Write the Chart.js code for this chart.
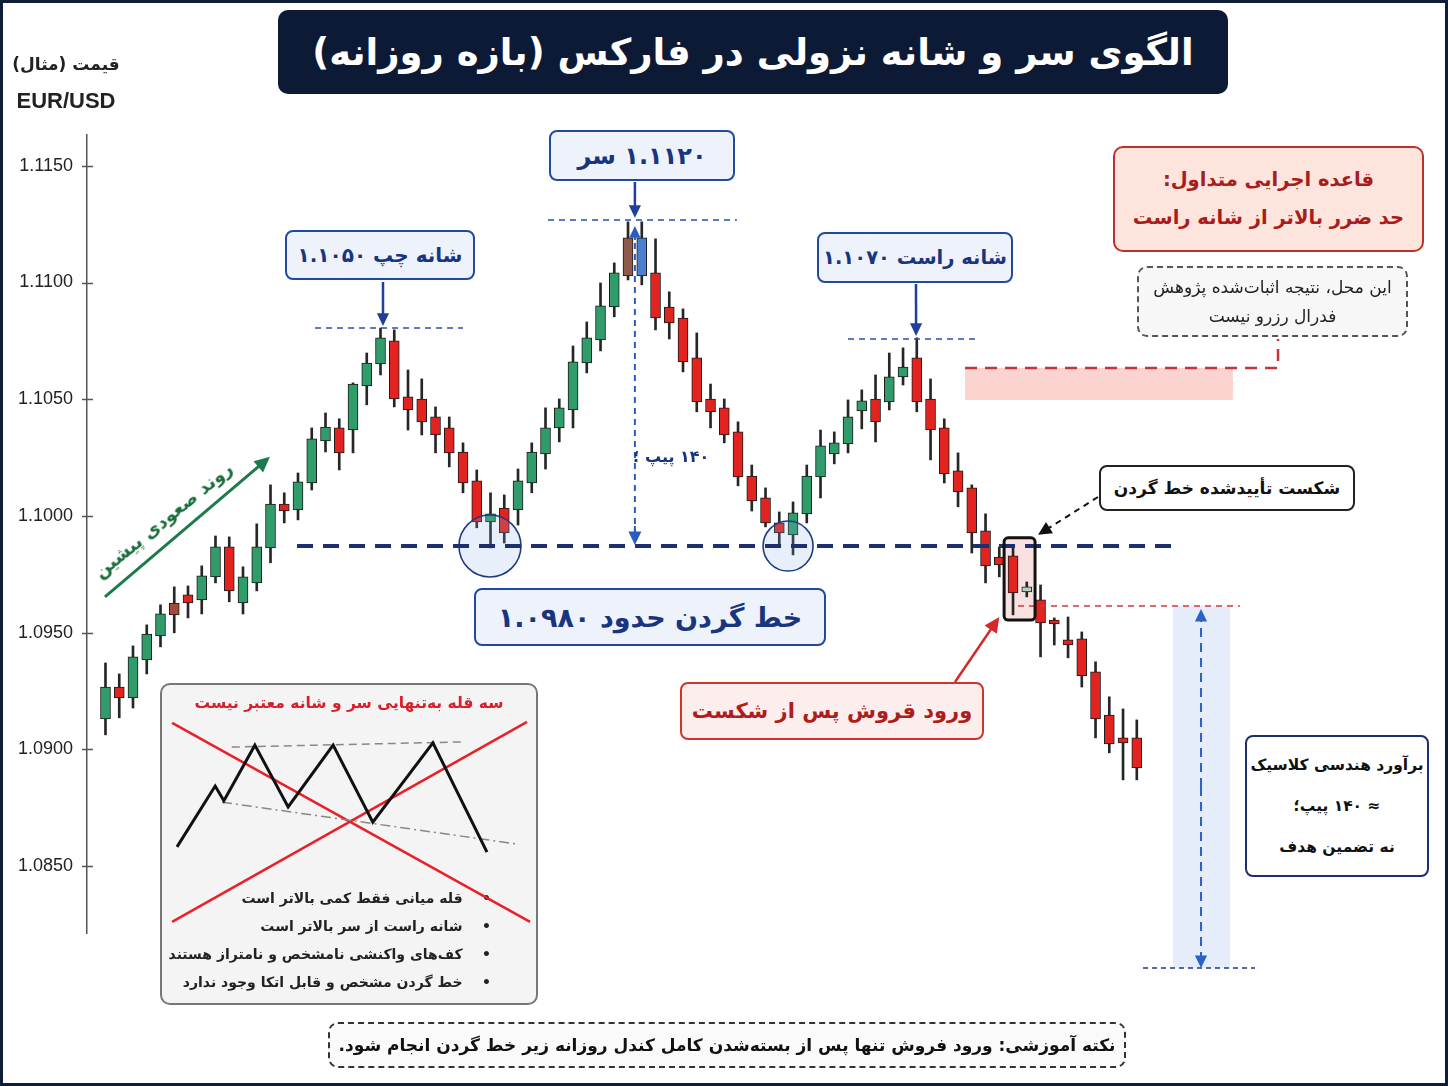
<!DOCTYPE html>
<html lang="fa">
<head>
<meta charset="utf-8">
<script src="https://cdn.jsdelivr.net/npm/chart.js@4.4.1/dist/chart.umd.min.js"></script>
<style>
  body { margin: 0; background: #fff; }
  #page { position: relative; width: 1448px; height: 1086px; overflow: hidden; background: #fff; }
  canvas { position: absolute; left: 0; top: 0; }
  .box { position: absolute; box-sizing: border-box; display: flex; flex-direction: column;
         align-items: center; justify-content: center; direction: rtl; text-align: center; white-space: nowrap;
         font-family: "DejaVu Sans", "Noto Sans", sans-serif; font-weight: bold; }
  .blue { background: #eef3fb; border: 2px solid #1f4aa0; border-radius: 8px; color: #1a3580; font-size: 20px; }
  .txt { position: absolute; font-family: "DejaVu Sans", "Noto Sans", sans-serif; font-weight: bold; direction: rtl; white-space: nowrap; }
  #frame { position: absolute; left: 0; top: 0; width: 1448px; height: 1086px; box-sizing: border-box;
           border: 3px solid #0f1e38; pointer-events: none; }
</style>
</head>
<body>
<div id="page">
  <canvas id="main" width="1448" height="1086"></canvas>

  <div class="box" style="left:278px;top:10px;width:950px;height:84px;background:#0c1a36;border-radius:10px;color:#fff;font-size:37px;">الگوی سر و شانه نزولی در فارکس (بازه روزانه)</div>

  <div class="txt" style="left:12px;top:54px;width:108px;text-align:center;font-size:17px;color:#222;">قیمت (مثال)</div>
  <div class="txt" style="left:10px;top:88px;width:112px;text-align:center;font-size:22px;color:#222;direction:ltr;font-family:'Liberation Sans',Arial,sans-serif;">EUR/USD</div>

  <div class="box blue" style="left:285px;top:230px;width:190px;height:50px;">شانه چپ ۱.۱۰۵۰</div>
  <div class="box blue" style="left:549px;top:130px;width:186px;height:51px;font-size:24px;">۱.۱۱۲۰ سر</div>
  <div class="box blue" style="left:817px;top:232px;width:196px;height:51px;font-size:19.5px;">شانه راست ۱.۱۰۷۰</div>
  <div class="box blue" style="left:474px;top:588px;width:352px;height:58px;font-size:27px;">خط گردن حدود ۱.۰۹۸۰</div>

  <div class="txt" style="left:633px;top:447px;font-size:16px;color:#1a3580;">۱۴۰ پیپ ؛</div>

  <div class="box" style="left:1113px;top:146px;width:311px;height:106px;background:#fde4dd;border:2.5px solid #c0302a;border-radius:10px;color:#a81c1c;font-size:19.5px;line-height:1.95;">
    <div>قاعده اجرایی متداول:</div><div>حد ضرر بالاتر از شانه راست</div></div>
  <div class="box" style="left:1137px;top:266px;width:271px;height:71px;background:#f7f7f7;border:2px dashed #555;border-radius:10px;color:#222;font-size:17px;font-weight:normal;line-height:1.65;">
    <div>این محل، نتیجه اثبات‌شده پژوهش</div><div>فدرال رزرو نیست</div></div>

  <div class="box" style="left:1099px;top:465px;width:256px;height:46px;background:#fff;border:2px solid #222;border-radius:8px;color:#111;font-size:17px;">شکست تأییدشده خط گردن</div>
  <div class="box" style="left:680px;top:682px;width:304px;height:58px;background:#fdeeee;border:2px solid #d0342c;border-radius:8px;color:#b01c1c;font-size:21px;">ورود قروش پس از شکست</div>

  <div class="box" style="left:1245px;top:735px;width:184px;height:142px;background:#fff;border:2px solid #1c2f6e;border-radius:8px;color:#111;font-size:15.5px;line-height:41px;">
    <div>برآورد هندسی کلاسیک</div><div>≈ ۱۴۰ پیپ؛</div><div>نه تضمین هدف</div></div>

  <div class="txt" style="left:163px;top:520px;font-size:18px;color:#1a6e3c;transform:translate(-50%,-50%) rotate(-39deg);">روند صعودی پیشین</div>

  <div class="box" style="left:160px;top:683px;width:378px;height:322px;background:#f4f4f4;border:2px solid #777;border-radius:10px;"></div>
  <div class="txt" style="left:160px;top:694px;width:378px;text-align:center;font-size:15.5px;color:#d8202a;">سه قله به‌تنهایی سر و شانه معتبر نیست</div>
  <div class="txt" style="left:160px;top:884px;width:331px;text-align:right;font-size:14px;color:#222;line-height:28px;">
    <div>•&nbsp;&nbsp;&nbsp; قله میانی فقط کمی بالاتر است</div>
    <div>•&nbsp;&nbsp;&nbsp; شانه راست از سر بالاتر است</div>
    <div>•&nbsp;&nbsp;&nbsp; کف‌های واکنشی نامشخص و نامتراز هستند</div>
    <div>•&nbsp;&nbsp;&nbsp; خط گردن مشخص و قابل اتکا وجود ندارد</div>
  </div>
  <canvas id="inset" width="378" height="322" style="left:160px;top:683px;"></canvas>

  <div class="box" style="left:328px;top:1022px;width:798px;height:46px;background:#fafafa;border:2px dashed #333;border-radius:10px;color:#111;font-size:17px;">نکته آموزشی: ورود فروش تنها پس از بسته‌شدن کامل کندل روزانه زیر خط گردن انجام شود.</div>

  <div id="frame"></div>
</div>

<script>
// daily EUR/USD candles (example data)
const open = [
  1.09130, 1.09267, 1.09220, 1.09383, 1.09486, 1.09627, 1.09662, 1.09640, 1.09739, 1.09867,
  1.09627, 1.09713, 1.09863, 1.10051, 1.10026, 1.10141, 1.10321, 1.10377, 1.10368, 1.10557,
  1.10651, 1.10750, 1.10510, 1.10501, 1.10424, 1.10377, 1.10274, 1.10150, 1.09974, 1.10034,
  1.10026, 1.10141, 1.10266, 1.10377, 1.10454, 1.10655, 1.10754, 1.10895, 1.11028, 1.11191,
  1.11041, 1.10895, 1.10848, 1.10677, 1.10501, 1.10463, 1.10360, 1.10171, 1.10077, 1.09970,
  1.09919, 1.10009, 1.10167, 1.10266, 1.10308, 1.10450, 1.10501, 1.10488, 1.10596, 1.10677,
  1.10501, 1.10377, 1.10193, 1.10120, 1.09936, 1.09824, 1.09829, 1.09674, 1.09640, 1.09554,
  1.09469, 1.09473, 1.09332, 1.09147, 1.09049, 1.09049
];
const high = [
  1.09370, 1.09323, 1.09443, 1.09533, 1.09619, 1.09696, 1.09700, 1.09786, 1.09914, 1.09910,
  1.09782, 1.09966, 1.10133, 1.10099, 1.10184, 1.10377, 1.10441, 1.10416, 1.10570, 1.10698,
  1.10805, 1.10797, 1.10625, 1.10587, 1.10467, 1.10424, 1.10313, 1.10197, 1.10099, 1.10090,
  1.10201, 1.10313, 1.10463, 1.10501, 1.10728, 1.10831, 1.10998, 1.11084, 1.11260, 1.11260,
  1.11187, 1.10960, 1.10887, 1.10784, 1.10565, 1.10501, 1.10403, 1.10218, 1.10120, 1.10017,
  1.10060, 1.10218, 1.10368, 1.10360, 1.10497, 1.10540, 1.10604, 1.10698, 1.10720, 1.10763,
  1.10587, 1.10416, 1.10270, 1.10133, 1.10009, 1.09867, 1.09867, 1.09717, 1.09704, 1.09563,
  1.09567, 1.09503, 1.09375, 1.09225, 1.09173, 1.09126
];
const low = [
  1.09062, 1.09135, 1.09177, 1.09323, 1.09439, 1.09499, 1.09563, 1.09580, 1.09713, 1.09632,
  1.09580, 1.09679, 1.09799, 1.09970, 1.09983, 1.10111, 1.10274, 1.10197, 1.10270, 1.10476,
  1.10604, 1.10467, 1.10368, 1.10347, 1.10270, 1.10210, 1.10099, 1.09949, 1.09863, 1.09884,
  1.09961, 1.10099, 1.10201, 1.10317, 1.10377, 1.10613, 1.10707, 1.10853, 1.11011, 1.10990,
  1.10797, 1.10758, 1.10617, 1.10446, 1.10377, 1.10313, 1.10129, 1.10021, 1.09953, 1.09867,
  1.09833, 1.09970, 1.10077, 1.10223, 1.10270, 1.10373, 1.10317, 1.10454, 1.10561, 1.10446,
  1.10240, 1.10141, 1.10039, 1.09841, 1.09713, 1.09739, 1.09576, 1.09653, 1.09396, 1.09447,
  1.09392, 1.09267, 1.09049, 1.08985, 1.08869, 1.08869
];
const close = [
  1.09267, 1.09220, 1.09396, 1.09494, 1.09580, 1.09576, 1.09627, 1.09743, 1.09867, 1.09679,
  1.09739, 1.09867, 1.10051, 1.10021, 1.10146, 1.10330, 1.10381, 1.10270, 1.10565, 1.10655,
  1.10763, 1.10501, 1.10454, 1.10403, 1.10347, 1.10270, 1.10141, 1.09974, 1.10009, 1.09927,
  1.10150, 1.10274, 1.10377, 1.10463, 1.10660, 1.10763, 1.10900, 1.11041, 1.11191, 1.11028,
  1.10848, 1.10827, 1.10660, 1.10488, 1.10446, 1.10347, 1.10167, 1.10064, 1.09970, 1.09927,
  1.10013, 1.10171, 1.10300, 1.10313, 1.10424, 1.10493, 1.10403, 1.10596, 1.10638, 1.10488,
  1.10368, 1.10180, 1.10103, 1.09927, 1.09786, 1.09790, 1.09670, 1.09696, 1.09542, 1.09537,
  1.09447, 1.09315, 1.09130, 1.09023, 1.09027, 1.08920
];
const yTicks = [1.085, 1.090, 1.095, 1.100, 1.105, 1.110, 1.115];

// pattern levels
const neckline = 1.09871;
const headLevel = 1.11268;
const leftShoulderLevel = 1.10805;
const rightShoulderLevel = 1.10758;
const entryLevel = 1.09614;
const targetLevel = 1.08063;
const stopZone = [1.10497, 1.10634];
const bottoms = [28.96, 50.64];

// inset sketch (no scale, 0..100 units)
const sketchX = [4.5, 14.6, 16.9, 25.1, 33.9, 45.8, 56.3, 72.2, 86.5];
const sketchY = [49.1, 68.0, 63.4, 80.7, 61.5, 80.7, 56.8, 81.4, 47.5];

const GREEN = '#2f9c6a', RED = '#e3231f';
const specialColors = { 6: '#a24a3c', 39: '#8d5a4b', 40: '#4d7fcf', 68: '#b7cdbf' };

const idx = open.map((_, i) => i + 1);
const bodyColors = idx.map((n, i) => specialColors[n] || (close[i] >= open[i] ? GREEN : RED));

function arrow(ctx, x1, y1, x2, y2, color, width, dash, head) {
    ctx.save();
    ctx.strokeStyle = color;
    ctx.fillStyle = color;
    ctx.lineWidth = width;
    ctx.setLineDash(dash || []);
    const a = Math.atan2(y2 - y1, x2 - x1);
    ctx.beginPath();
    ctx.moveTo(x1, y1);
    ctx.lineTo(x2 - Math.cos(a) * head * 0.8, y2 - Math.sin(a) * head * 0.8);
    ctx.stroke();
    ctx.setLineDash([]);
    ctx.beginPath();
    ctx.moveTo(x2, y2);
    ctx.lineTo(x2 - head * Math.cos(a - 0.45), y2 - head * Math.sin(a - 0.45));
    ctx.lineTo(x2 - head * Math.cos(a + 0.45), y2 - head * Math.sin(a + 0.45));
    ctx.closePath();
    ctx.fill();
    ctx.restore();
}

function hline(ctx, x, y, from, to, level, color, width, dash) {
    ctx.save();
    ctx.strokeStyle = color;
    ctx.lineWidth = width;
    ctx.setLineDash(dash);
    ctx.beginPath();
    ctx.moveTo(x.getPixelForValue(from), y.getPixelForValue(level));
    ctx.lineTo(x.getPixelForValue(to), y.getPixelForValue(level));
    ctx.stroke();
    ctx.restore();
}

function spanRect(x, y, x0, x1, v0, v1) {
    const l = x.getPixelForValue(x0), t = y.getPixelForValue(v1);
    return [l, t, x.getPixelForValue(x1) - l, y.getPixelForValue(v0) - t];
}

const overlay = {
    id: 'overlay',
    beforeDatasetsDraw(chart) {
        const { ctx, scales: { x, y } } = chart;
        ctx.save();
        // stop zone
        ctx.fillStyle = '#fbd3cf';
        ctx.fillRect(...spanRect(x, y, 63.51, 82.99, stopZone[0], stopZone[1]));
        // measured move band
        ctx.fillStyle = '#e4edf9';
        ctx.fillRect(...spanRect(x, y, 78.64, 82.78, targetLevel, entryLevel));
        // breakout candle box fill
        ctx.fillStyle = 'rgba(245,205,205,0.6)';
        ctx.beginPath();
        ctx.roundRect(...spanRect(x, y, 66.35, 68.6, 1.09554, 1.09906), 4);
        ctx.fill();
        ctx.restore();
    },
    afterDatasetsDraw(chart) {
        const { ctx, scales: { x, y } } = chart;
        // y axis ticks crossing the axis
        ctx.save();
        ctx.strokeStyle = '#555';
        ctx.lineWidth = 1.5;
        yTicks.forEach(v => {
            const py = Math.round(y.getPixelForValue(v)) + 0.5;
            ctx.beginPath();
            ctx.moveTo(x.left - 5, py);
            ctx.lineTo(x.left + 6, py);
            ctx.stroke();
        });
        ctx.restore();

        // stop zone dashed edge + connector to note box
        ctx.save();
        ctx.strokeStyle = '#c8333a';
        ctx.lineWidth = 2.5;
        ctx.setLineDash([12, 8]);
        ctx.beginPath();
        ctx.moveTo(x.getPixelForValue(63.51), y.getPixelForValue(stopZone[1]));
        ctx.lineTo(x.getPixelForValue(86.27), y.getPixelForValue(stopZone[1]));
        ctx.lineTo(x.getPixelForValue(86.27), 339);
        ctx.stroke();
        ctx.restore();

        // shoulder / head reference lines
        hline(ctx, x, y, 16.24, 27.0, leftShoulderLevel, '#2a4fa8', 1.5, [6, 5]);
        hline(ctx, x, y, 33.18, 46.92, headLevel, '#2a4fa8', 1.5, [6, 5]);
        hline(ctx, x, y, 55.0, 64.6, rightShoulderLevel, '#2a4fa8', 1.5, [6, 5]);

        // bottoms touching the neckline
        ctx.save();
        bottoms.forEach((b, i) => {
            ctx.beginPath();
            ctx.arc(x.getPixelForValue(b), y.getPixelForValue(neckline), i === 0 ? 31 : 25, 0, Math.PI * 2);
            ctx.fillStyle = 'rgba(130,175,230,0.2)';
            ctx.fill();
            ctx.strokeStyle = '#1f3a80';
            ctx.lineWidth = 1.6;
            ctx.stroke();
        });
        ctx.restore();

        // neckline
        hline(ctx, x, y, 14.93, 79.14, neckline, '#1c2f6e', 4, [16, 10]);

        // head to neckline distance (between the two head candles)
        const hx = x.getPixelForValue(39.5);
        ctx.save();
        ctx.strokeStyle = '#2a5cc0';
        ctx.lineWidth = 2;
        ctx.setLineDash([6, 5]);
        ctx.beginPath();
        ctx.moveTo(hx, y.getPixelForValue(headLevel) + 12);
        ctx.lineTo(hx, y.getPixelForValue(neckline) - 14);
        ctx.stroke();
        ctx.restore();
        arrow(ctx, hx, y.getPixelForValue(headLevel) + 20, hx, y.getPixelForValue(headLevel) + 6, '#2a5cc0', 2, null, 13);
        arrow(ctx, hx, y.getPixelForValue(neckline) - 20, hx, y.getPixelForValue(neckline) - 1, '#2a5cc0', 2, null, 15);

        // entry + target lines
        hline(ctx, x, y, 67.36, 83.5, entryLevel, '#d23a3a', 1.5, [6, 5]);
        hline(ctx, x, y, 76.45, 84.6, targetLevel, '#1c3a8a', 1.5, [5, 4]);

        // measured move arrow
        const mx = x.getPixelForValue(80.67);
        const top = y.getPixelForValue(entryLevel), bot = y.getPixelForValue(targetLevel);
        arrow(ctx, mx, (top + bot) / 2, mx, top + 3, '#2a62c9', 2, [9, 6], 14);
        arrow(ctx, mx, (top + bot) / 2, mx, bot, '#2a62c9', 2, [9, 6], 14);

        // breakout candle box
        ctx.save();
        ctx.strokeStyle = '#111';
        ctx.lineWidth = 3;
        ctx.beginPath();
        ctx.roundRect(...spanRect(x, y, 66.35, 68.6, 1.09554, 1.09906), 4);
        ctx.stroke();
        ctx.restore();

        // label arrows
        arrow(ctx, 383, 282, x.getPixelForValue(21.18), y.getPixelForValue(1.10814), '#1f3f9a', 2.5, null, 14);
        arrow(ctx, hx, 182, hx, y.getPixelForValue(1.11277), '#1f3f9a', 2.5, null, 14);
        arrow(ctx, 916, 284, x.getPixelForValue(59.95), y.getPixelForValue(1.10771), '#1f3f9a', 2.5, null, 14);
        arrow(ctx, 1098, 497, x.getPixelForValue(68.82), y.getPixelForValue(1.09919), '#111', 2, [6, 5], 15);
        arrow(ctx, 955, 682, x.getPixelForValue(66.0), y.getPixelForValue(1.09567), '#d42a2a', 2.5, null, 17);

        // prior uptrend arrow
        arrow(ctx, x.getPixelForValue(0.96), y.getPixelForValue(1.09653),
            x.getPixelForValue(12.96), y.getPixelForValue(1.10253), '#1d7a4a', 3, null, 17);
    }
};

new Chart(document.getElementById('main'), {
    type: 'bar',
    data: {
        datasets: [
            {
                label: 'body',
                data: idx.map((n, i) => ({ x: n, y: [open[i], close[i]] })),
                backgroundColor: bodyColors,
                borderColor: '#1b1b1b',
                borderWidth: 1,
                borderSkipped: false,
                barThickness: 10,
                minBarLength: 2,
                grouped: false,
                order: 1
            },
            {
                label: 'wick',
                data: idx.map((n, i) => ({ x: n, y: [low[i], high[i]] })),
                backgroundColor: '#262626',
                barThickness: 2,
                grouped: false,
                order: 2
            }
        ]
    },
    options: {
        responsive: false,
        animation: false,
        layout: { padding: { top: 135, bottom: 153, left: 0, right: 8 } },
        plugins: { legend: { display: false }, tooltip: { enabled: false } },
        scales: {
            x: { type: 'linear', min: -0.345, max: 98.05, offset: false, display: false },
            y: {
                min: 1.08213, max: 1.11632,
                afterFit: s => { s.width = 87; },
                afterBuildTicks: s => { s.ticks = yTicks.map(v => ({ value: v })); },
                grid: { display: false, drawTicks: false },
                border: { display: true, color: '#555', width: 1.5 },
                ticks: {
                    padding: 14,
                    color: '#222',
                    font: { family: 'Liberation Sans, Arial, sans-serif', size: 18 },
                    callback: v => v.toFixed(4)
                }
            }
        }
    },
    plugins: [overlay]
});

// inset: three peaks that do not make a valid pattern
const pts = (xs, ys) => xs.map((v, i) => ({ x: v, y: ys[i] }));
new Chart(document.getElementById('inset'), {
    type: 'line',
    data: {
        datasets: [
            { data: pts(sketchX, sketchY), borderColor: '#111', borderWidth: 3 },
            { data: pts([19.0, 79.6], [80.1, 81.7]), borderColor: '#888', borderWidth: 1.5, borderDash: [8, 5] },
            { data: pts([16.4, 94.4], [63.0, 50.0]), borderColor: '#888', borderWidth: 1.5, borderDash: [10, 4, 2, 4] },
            { data: pts([3.2, 97.9], [87.6, 25.8]), borderColor: '#e8202a', borderWidth: 2.5 },
            { data: pts([3.2, 97.1], [25.8, 87.9]), borderColor: '#e8202a', borderWidth: 2.5 }
        ]
    },
    options: {
        responsive: false,
        animation: false,
        elements: { point: { radius: 0 }, line: { tension: 0 } },
        layout: { padding: 0 },
        plugins: { legend: { display: false }, tooltip: { enabled: false } },
        scales: {
            x: { type: 'linear', min: 0, max: 100, display: false },
            y: { type: 'linear', min: 0, max: 100, display: false }
        }
    }
});
</script>
</body>
</html>
